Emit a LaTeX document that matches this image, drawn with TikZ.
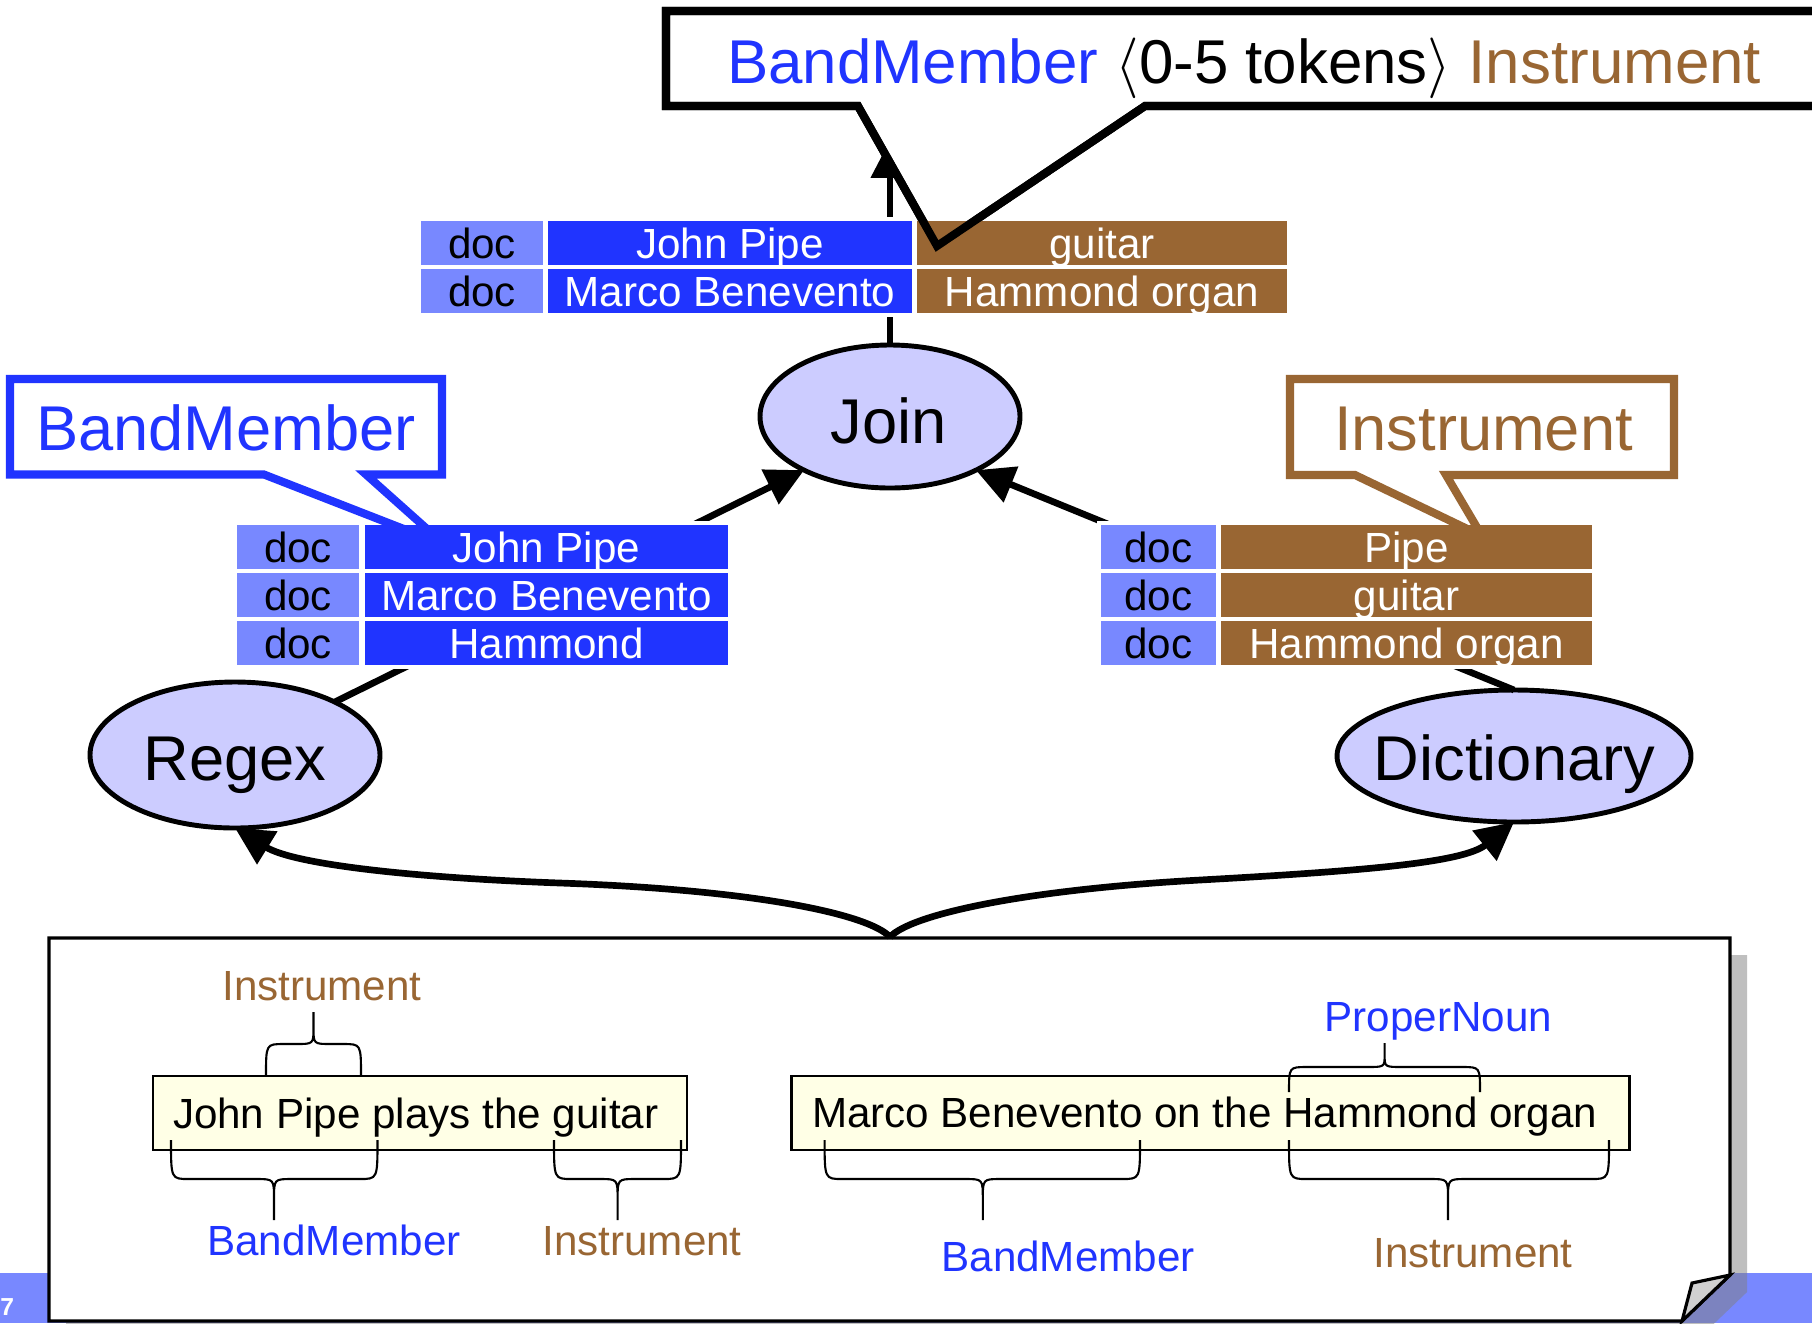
\documentclass[tikz,border=0pt]{standalone}
\usepackage{fontspec}
\setmainfont{Liberation Sans}
\usetikzlibrary{arrows.meta,shapes.geometric}

\definecolor{bmblue}{RGB}{32,52,255}
\definecolor{inbrown}{RGB}{153,102,51}
\definecolor{docblue}{RGB}{120,136,255}
\definecolor{procfill}{RGB}{204,204,255}
\definecolor{sentfill}{RGB}{255,255,230}
\definecolor{flapgray}{RGB}{208,208,208}
\definecolor{shadowgray}{RGB}{128,128,128}

% table cell: name, x1, y1, x2, y2, style, text
\newcommand\tcell[7]{%
  \node[cell,#6,minimum width={(#4-#2)*0.1mm},minimum height={(#5-#3)*0.1mm}]
    (#1) at ({(#2+#4)/2},{(#3+#5)/2}) {#7};}

% curly brace: x1, x2, x of tip, y of legs, y of bar, y of tip
\newcommand\spanbrace[6]{%
  \draw[brace] (#1,#4) .. controls (#1,#5) .. ({#1+18},#5) -- ({#3-18},#5)
    .. controls (#3,#5) .. (#3,{(#5+#6)/2}) -- (#3,#6)
    (#3,{(#5+#6)/2}) .. controls (#3,#5) .. ({#3+18},#5) -- ({#2-18},#5)
    .. controls (#2,#5) .. (#2,#4);}

\begin{document}
\begin{tikzpicture}[x=0.1mm,y=-0.1mm,
  every node/.style={inner sep=0pt,outer sep=0pt},
  big/.style={font=\fontsize{18}{21}\selectfont},
  small/.style={font=\fontsize{12}{14}\selectfont},
  arr/.style={line width=1.9pt,-{Triangle[length=10.8pt,width=10.6pt]}},
  proc/.style={ellipse,draw,line width=1.4pt,fill=procfill},
  callout/.style={line width=2.3pt,fill=white,line join=miter},
  cell/.style={rectangle,small,text height=8.6pt,text depth=0pt},
  docc/.style={fill=docblue,text=black},
  namec/.style={fill=bmblue,text=white},
  instc/.style={fill=inbrown,text=white},
  sentbox/.style={rectangle,draw,line width=0.8pt,fill=sentfill},
  brace/.style={line width=0.6pt,line join=round},
  paper/.style={line width=0.9pt},
]
\useasboundingbox (0,0) rectangle (1812,1323);
\clip (0,0) rectangle (1812,1323);
\fill[white] (0,0) rectangle (1812,1323);

% footer bar and page number
\fill[docblue] (0,1273) rectangle (1812,1323);
\node[font=\fontsize{7}{8}\selectfont\bfseries,text=white,anchor=base east] (slideno) at (14,1315) {7};

% sheet of paper with shadow and turned corner
\fill[shadowgray,opacity=0.5] (66,955) -- (1747,955) -- (1747,1292) -- (1699,1338) -- (66,1338) -- cycle;
\draw[paper,fill=white] (49,938) -- (1730,938) -- (1730,1275) -- (1682,1321) -- (49,1321) -- cycle;
\draw[paper,fill=flapgray] (1730,1275) -- (1692,1283) -- (1682,1321) -- cycle;

% example sentences
\node[sentbox,minimum width=53.4mm,minimum height=7.4mm] (sent1) at (420,1113) {};
\node[small,anchor=base west] (sent1txt) at (173,1128) {John Pipe plays the guitar};
\node[sentbox,minimum width=83.8mm,minimum height=7.4mm] (sent2) at (1210.5,1113) {};
\node[small,anchor=base west] (sent2txt) at (812,1127) {Marco Benevento on the Hammond organ};

% annotation braces
\spanbrace{266}{361}{313.5}{1076}{1044}{1012}
\spanbrace{1289}{1480}{1384.6}{1092}{1067}{1043}
\spanbrace{171}{377.5}{274}{1140}{1179}{1220}
\spanbrace{554}{681}{617.6}{1140}{1179}{1220}
\spanbrace{824.6}{1140}{982.8}{1140}{1179}{1220}
\spanbrace{1289}{1609}{1448}{1140}{1179}{1220}

% annotation labels
\node[small,text=inbrown,anchor=base] (lbInstA) at (322,1000) {Instrument};
\node[small,text=bmblue,anchor=base] (lbBandA) at (334,1255) {BandMember};
\node[small,text=inbrown,anchor=base] (lbInstB) at (642,1255) {Instrument};
\node[small,text=bmblue,anchor=base] (lbProper) at (1438.5,1031) {ProperNoun};
\node[small,text=bmblue,anchor=base] (lbBandB) at (1068,1271) {BandMember};
\node[small,text=inbrown,anchor=base] (lbInstC) at (1473,1267) {Instrument};

% operators
\node[proc,minimum width=26mm,minimum height=14.3mm] (Join) at (890,416.5) {};
\node[big,anchor=base] (JoinTxt) at (889,443) {Join};
\node[proc,minimum width=29mm,minimum height=14.6mm] (Regex) at (235,755) {};
\node[big,anchor=base] (RegexTxt) at (235,780) {Regex};
\node[proc,minimum width=35.4mm,minimum height=13.2mm] (Dictionary) at (1514,756) {};
\node[big,anchor=base] (DictionaryTxt) at (1514.5,780) {Dictionary};

% data flow
\coordinate (src) at (890,937);
\coordinate (jointop) at (890,140);
\draw[arr] (src) .. controls (870,915) and (760,890) .. (560,883)
  .. controls (420,878) and (295,865) .. (Regex.south);
\draw[arr] (src) .. controls (910,915) and (1020,890) .. (1200,880)
  .. controls (1360,871) and (1463,863) .. (Dictionary.south);
\draw[arr] (Join.north) -- (jointop);
\draw[arr] (Regex.28) -- (Join.212);
\draw[arr] (Dictionary.north) -- (Join.328);

% white margins behind the result tables
\fill[white] (417,217) rectangle (1291,317);
\fill[white] (233,521) rectangle (732,669);
\fill[white] (1097,521) rectangle (1596,669);

% callouts naming the result types
\draw[callout,draw=bmblue] (10,379) -- (442,379) -- (442,474.5) -- (366,474.5) -- (445,545)
  -- (264,474.5) -- (10,474.5) -- cycle;
\node[big,text=bmblue,anchor=base west] (cBand) at (36,450) {BandMember};
\draw[callout,draw=inbrown] (1290,379) -- (1674,379) -- (1674,475) -- (1446,475) -- (1482,536)
  -- (1355,475) -- (1290,475) -- cycle;
\node[big,text=inbrown,anchor=base west] (cInst) at (1334,450) {Instrument};
\draw[callout,draw=black] (666,11) -- (1840,11) -- (1840,106) -- (1145,106) -- (937,246)
  -- (858,106) -- (666,106) -- cycle;

% join result
\tcell{t11}{421}{221}{543}{265}{docc}{doc}
\tcell{t12}{548}{221}{912}{265}{namec}{John Pipe}
\tcell{t13}{917}{221}{1287}{265}{instc}{guitar}
\tcell{t21}{421}{269}{543}{313}{docc}{doc}
\tcell{t22}{548}{269}{912}{313}{namec}{Marco Benevento}
\tcell{t23}{917}{269}{1287}{313}{instc}{Hammond organ}

% regex result
\tcell{l11}{237}{525}{359}{569}{docc}{doc}
\tcell{l12}{365}{525}{728}{569}{namec}{John Pipe}
\tcell{l21}{237}{573}{359}{617}{docc}{doc}
\tcell{l22}{365}{573}{728}{617}{namec}{Marco Benevento}
\tcell{l31}{237}{621}{359}{665}{docc}{doc}
\tcell{l32}{365}{621}{728}{665}{namec}{Hammond}

% dictionary result
\tcell{r11}{1101}{525}{1216}{569}{docc}{doc}
\tcell{r12}{1221}{525}{1592}{569}{instc}{Pipe}
\tcell{r21}{1101}{573}{1216}{617}{docc}{doc}
\tcell{r22}{1221}{573}{1592}{617}{instc}{guitar}
\tcell{r31}{1101}{621}{1216}{665}{docc}{doc}
\tcell{r32}{1221}{621}{1592}{665}{instc}{Hammond organ}

% outline of the top callout over the table
\draw[line width=2.3pt,line join=miter] (666,11) -- (1840,11) -- (1840,106) -- (1145,106) -- (937,246)
  -- (858,106) -- (666,106) -- cycle;
\node[font=\fontsize{17.6}{20}\selectfont,anchor=base west] (topTxt) at (727,83)
  {\textcolor{bmblue}{BandMember} $\langle$0-5 tokens$\rangle$ \textcolor{inbrown}{Instrument}};
\end{tikzpicture}
\end{document}
